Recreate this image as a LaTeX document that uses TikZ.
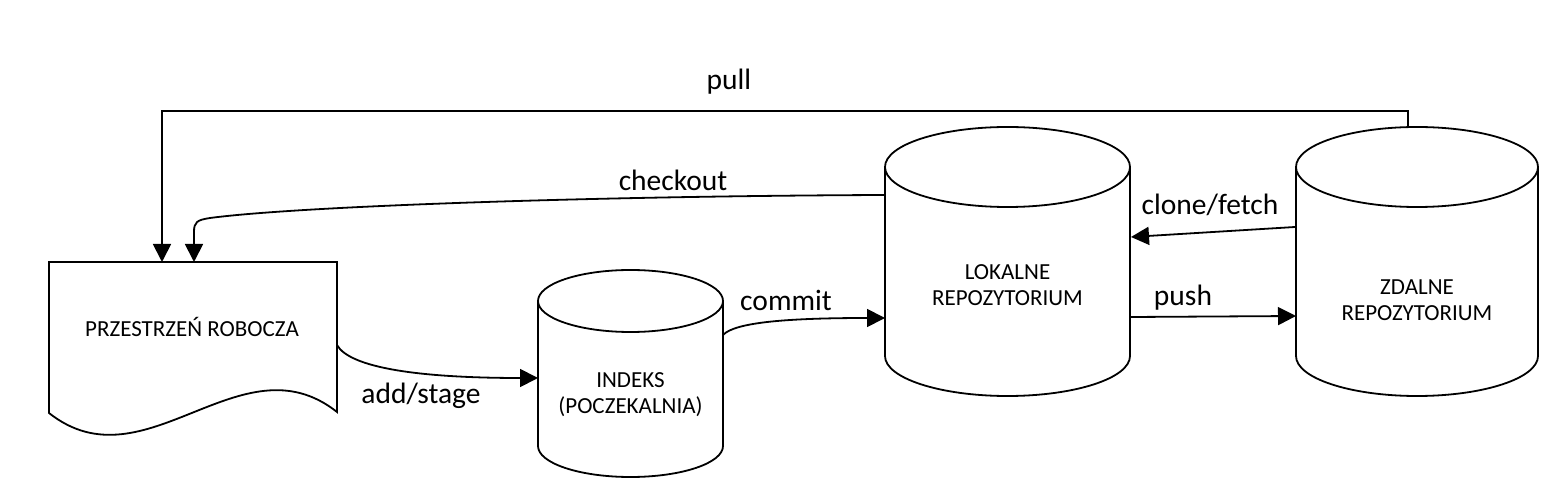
\documentclass[tikz,border=0pt]{standalone}
\usepackage{fontspec}
\setmainfont{Carlito}
\usetikzlibrary{arrows.meta}
\newcommand\cylshape[5]{%
  \draw[box] ({#1-#4},#2) -- ({#1-#4},#3) arc[start angle=180,end angle=360,x radius=#4pt,y radius=#5pt] -- ({#1+#4},#2);
  \draw[box] (#1,#2) ellipse[x radius=#4pt,y radius=#5pt];}
\begin{document}
\begin{tikzpicture}[x=1pt,y=1pt,
  box/.style={draw,line width=1.8pt,fill=white},
  conn/.style={line width=1.8pt,-{Triangle[width=18pt,length=18pt]}},
  anchorbox/.style={draw=none,inner sep=0pt,outer sep=0pt},
  ntext/.style={align=center,font=\fontsize{23}{26}\selectfont,inner sep=0pt},
  lbl/.style={font=\fontsize{29.5}{34}\selectfont,inner sep=0pt}]
\useasboundingbox (0,0) rectangle (1556,498);
% document shape
\draw[box] (49,85) -- (49,236) -- (337,236) -- (337,86) .. controls (241,162) and (145,9) .. (49,85) -- cycle;
\node[anchorbox,minimum width=288pt,minimum height=151pt] (doc) at (193,160.5) {};
\node[ntext] (doctxt) at (192,171) {PRZESTRZEŃ ROBOCZA};
% cylinders
\cylshape{630.5}{197}{52}{92.5}{31}
\node[anchorbox,minimum width=185pt,minimum height=207pt] (idx) at (630.5,124.5) {};
\node[ntext] (idxtxt) at (630.5,103) {INDEKS\\(POCZEKALNIA)};
\cylshape{1007.5}{331}{142}{122.5}{40}
\node[anchorbox,minimum width=245pt,minimum height=269pt] (lok) at (1007.5,236.5) {};
\node[ntext] (loktxt) at (1007.5,213) {LOKALNE\\REPOZYTORIUM};
\cylshape{1417}{331}{142}{121}{40}
\node[anchorbox,minimum width=242pt,minimum height=269pt] (zdl) at (1417,236.5) {};
\node[ntext] (zdltxt) at (1417,198) {ZDALNE\\REPOZYTORIUM};
% connectors
\draw[conn] ([xshift=-9pt]zdl.north) -- ++(0,16) -| ([xshift=-31pt]doc.north);
\draw[conn] ([yshift=66.5pt]lok.west) .. controls (600,302) and (300,292) .. (210,280)
  .. controls (197,278) and (194,276) .. (194,266) -- ([xshift=1pt]doc.north);
\draw[conn] ([yshift=-7.5pt]doc.east) .. controls (350,130) and (420,120) .. ([yshift=-4.5pt]idx.west);
\draw[conn] ([yshift=38.5pt]idx.east) .. controls (735,176) and (790,180) .. ([yshift=-56.5pt]lok.west);
\draw[conn] ([xshift=-1pt,yshift=34.5pt]zdl.west) -- ([xshift=1pt,yshift=24.5pt]lok.east);
\draw[conn] ([xshift=1pt,yshift=-55.5pt]lok.east) -- ([yshift=-54.5pt]zdl.west);
% labels
\node[lbl] (lpull) at (729,416) {pull};
\node[lbl] (lcheckout) at (673,318) {checkout};
\node[lbl] (ladd) at (421,102) {add/stage};
\node[lbl] (lcommit) at (786,198) {commit};
\node[lbl] (lclone) at (1210,293) {clone/fetch};
\node[lbl] (lpush) at (1183,200) {push};
\end{tikzpicture}
\end{document}
